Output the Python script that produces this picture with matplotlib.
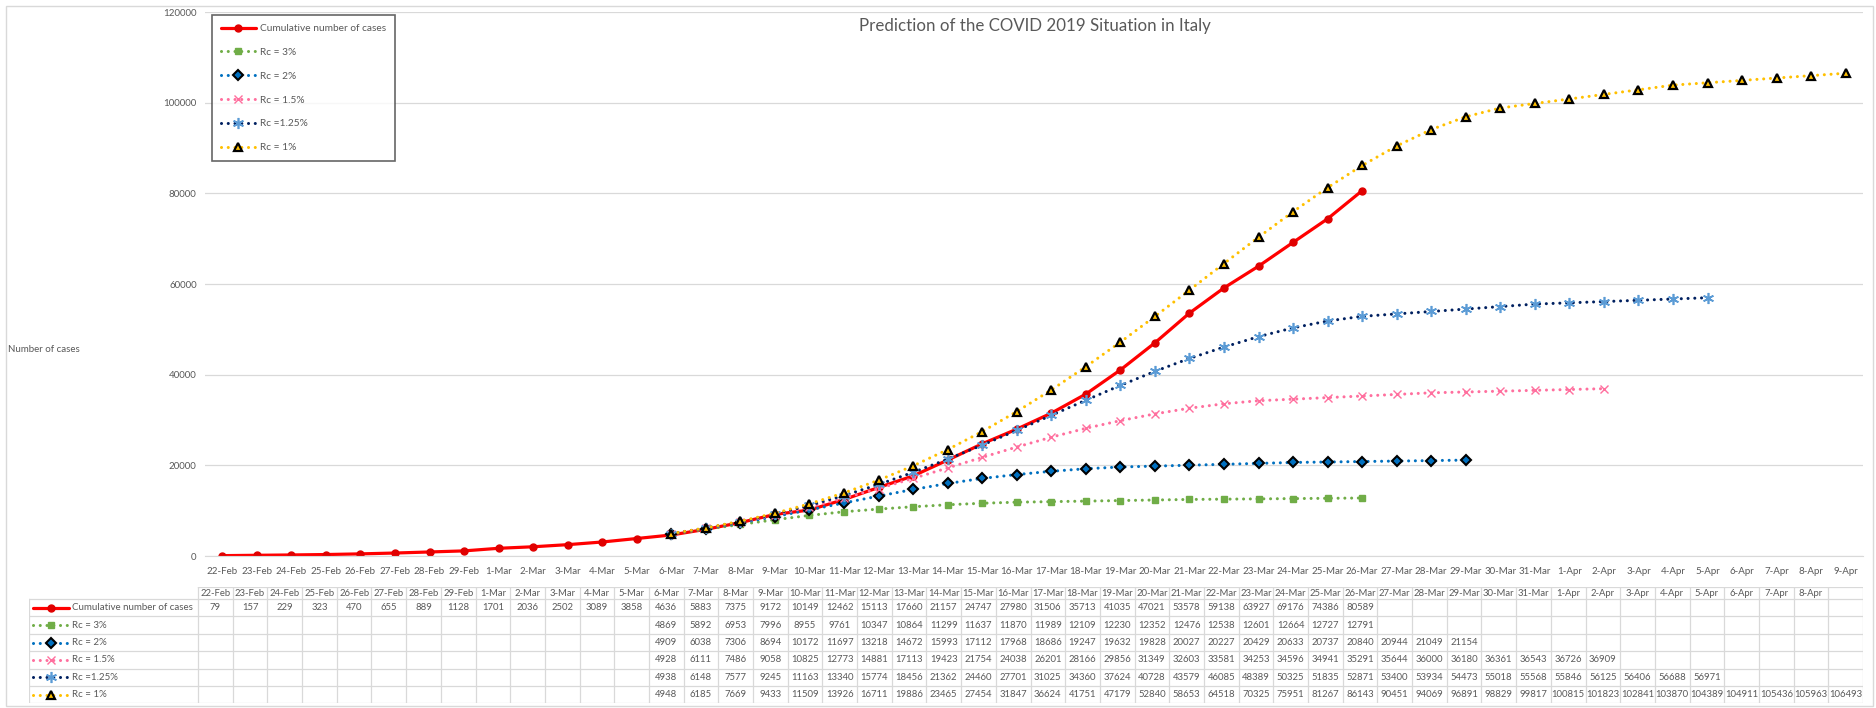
import numpy as np
import matplotlib
matplotlib.use('Agg')
import matplotlib.pyplot as plt
from matplotlib.patches import Rectangle

plt.rcParams['font.family'] = ['Lato', 'DejaVu Sans']

# ---- data ----
dates = (['%d-Feb' % d for d in range(22, 30)] +
         ['%d-Mar' % d for d in range(1, 32)] +
         ['%d-Apr' % d for d in range(1, 10)])
header_labels = dates[:-1] + ['']   # last table header is empty in the original

cumulative = [79, 157, 229, 323, 470, 655, 889, 1128, 1701, 2036, 2502, 3089, 3858,
              4636, 5883, 7375, 9172, 10149, 12462, 15113, 17660, 21157, 24747, 27980,
              31506, 35713, 41035, 47021, 53578, 59138, 63927, 69176, 74386, 80589]
rc3 = [4869, 5892, 6953, 7996, 8955, 9761, 10347, 10864, 11299, 11637, 11870, 11989,
       12109, 12230, 12352, 12476, 12538, 12601, 12664, 12727, 12791]
rc2 = [4909, 6038, 7306, 8694, 10172, 11697, 13218, 14672, 15993, 17112, 17968, 18686,
       19247, 19632, 19828, 20027, 20227, 20429, 20633, 20737, 20840, 20944, 21049, 21154]
rc15 = [4928, 6111, 7486, 9058, 10825, 12773, 14881, 17113, 19423, 21754, 24038, 26201,
        28166, 29856, 31349, 32603, 33581, 34253, 34596, 34941, 35291, 35644, 36000,
        36180, 36361, 36543, 36726, 36909]
rc125 = [4938, 6148, 7577, 9245, 11163, 13340, 15774, 18456, 21362, 24460, 27701, 31025,
         34360, 37624, 40728, 43579, 46085, 48389, 50325, 51835, 52871, 53400, 53934,
         54473, 55018, 55568, 55846, 56125, 56406, 56688, 56971]
rc1 = [4948, 6185, 7669, 9433, 11509, 13926, 16711, 19886, 23465, 27454, 31847, 36624,
       41751, 47179, 52840, 58653, 64518, 70325, 75951, 81267, 86143, 90451, 94069,
       96891, 98829, 99817, 100815, 101823, 102841, 103870, 104389, 104911, 105436,
       105963, 106493]

series_names = ['Cumulative number of cases', 'Rc = 3%', 'Rc = 2%', 'Rc = 1.5%',
                'Rc =1.25%', 'Rc = 1%']
series_values = [cumulative, rc3, rc2, rc15, rc125, rc1]
series_start = ['22-Feb', '6-Mar', '6-Mar', '6-Mar', '6-Mar', '6-Mar']

# ---- styles ----
dot = (0, (0.01, 2.2))
styles = [
    dict(color='#FF0000', lw=2.3, ls='-', marker='o', ms=5, mfc='#E00000', mec='#E00000'),
    dict(color='#70AD47', lw=2.2, ls=dot, marker='s', ms=5, mfc='#70AD47', mec='#70AD47'),
    dict(color='#0070C0', lw=2.2, ls=dot, marker='D', ms=4.8, mfc='#0070C0', mec='black', mew=1.5),
    dict(color='#FF6F9E', lw=2.2, ls=dot, marker='x', ms=6, mfc='#FF6F9E', mec='#FF6F9E', mew=1.0),
    dict(color='#002060', lw=2.2, ls=dot, marker=(6, 2, 0), ms=8, mfc='#5B9BD5', mec='#5B9BD5', mew=1.2),
    dict(color='#FFC000', lw=2.2, ls=dot, marker='^', ms=5.5, mfc='#FFC000', mec='black', mew=1.6),
]

grey = '#595959'
light = '#D9D9D9'
W, H = 1876, 708

fig = plt.figure(figsize=(W / 100, H / 100), dpi=100)
fig.patches.append(Rectangle((6 / W, 2 / H), 1867 / W, 700 / H, transform=fig.transFigure,
                             fill=False, edgecolor=light, lw=1))

# ---- main chart ----
ax = fig.add_axes([205 / W, 1 - 556 / H, (1863 - 205) / W, (556 - 12) / H])
lines = []
for name, vals, start, st in zip(series_names, series_values, series_start, styles):
    x0 = dates.index(start)
    x = np.arange(x0, x0 + len(vals))
    kw = dict(st)
    ln, = ax.plot(x, vals, color=kw.pop('color'), lw=kw.pop('lw'), ls=kw.pop('ls'),
                  dash_capstyle='round', solid_capstyle='round', label=name, **kw)
    lines.append(ln)

ax.set_xlim(-0.5, len(dates) - 0.5)
ax.set_ylim(0, 120000)
ax.set_yticks(np.arange(0, 120001, 20000))
ax.set_xticks(np.arange(len(dates)))
ax.set_xticklabels(dates)
ax.tick_params(axis='x', length=0, pad=8, labelsize=7, labelcolor=grey)
ax.tick_params(axis='y', length=0, pad=6, labelsize=7, labelcolor=grey)
ax.grid(axis='y', color=light, lw=0.9)
ax.set_axisbelow(True)
for s in ['top', 'right', 'left']:
    ax.spines[s].set_visible(False)
ax.spines['bottom'].set_color(light)

fig.text(1035 / W, 1 - 26 / H, 'Prediction of the COVID 2019 Situation in Italy',
         ha='center', va='center', fontsize=12.2, color=grey)
fig.text(8 / W, 1 - 349 / H, 'Number of cases', ha='left', va='center',
         fontsize=7, color=grey)

leg = fig.legend(handles=lines, loc='upper left', bbox_to_anchor=(212 / W, 1 - 15 / H),
                 bbox_transform=fig.transFigure, borderaxespad=0, fancybox=False,
                 fontsize=7.3, handlelength=3.4, labelspacing=1.45, numpoints=1,
                 borderpad=0.9, handletextpad=0.4, labelcolor=grey)
leg.get_frame().set_edgecolor('#404040')
leg.get_frame().set_linewidth(1.2)

# ---- data table ----
col_w = (1863 - 198) / len(dates)
lab_w = (198 - 29) / col_w
hdr_h, row_h = 12, 17.4
tbl_h = hdr_h + row_h * len(series_names)
tax = fig.add_axes([29 / W, 1 - (587 + tbl_h) / H, (1863 - 29) / W, tbl_h / H])
tax.set_xlim(-0.5 - lab_w, len(dates) - 0.5)
tax.set_ylim(tbl_h, 0)
tax.axis('off')
left = -0.5 - lab_w
right = len(dates) - 0.5

tax.plot([-0.5, right], [0, 0], color=light, lw=0.9)
for r in range(len(series_names) + 1):
    y = hdr_h + r * row_h
    tax.plot([left, right], [y, y], color=light, lw=0.9)
for c in range(len(dates) + 1):
    tax.plot([c - 0.5, c - 0.5], [0, tbl_h], color=light, lw=0.9)
tax.plot([left, left], [hdr_h, tbl_h], color=light, lw=0.9)

for c, lab in enumerate(header_labels):
    tax.text(c, hdr_h / 2, lab, ha='center', va='center', fontsize=6.8, color=grey)

key_x0 = left + 4 / col_w
key_x1 = left + 40 / col_w
for r, (name, vals, start, st) in enumerate(zip(series_names, series_values, series_start, styles)):
    yc = hdr_h + (r + 0.5) * row_h
    kw = dict(st)
    tax.plot([key_x0, key_x1], [yc, yc], color=kw.pop('color'), lw=kw.pop('lw'),
             ls=kw.pop('ls'), dash_capstyle='round', solid_capstyle='round', marker='None')
    tax.plot([(key_x0 + key_x1) / 2], [yc], ls='None', **kw)
    tax.text(key_x1 + 3 / col_w, yc, name, ha='left', va='center', fontsize=7, color=grey)
    x0 = dates.index(start)
    for i, v in enumerate(vals):
        tax.text(x0 + i, yc, str(v), ha='center', va='center', fontsize=6.8, color=grey)

fig.savefig('out.png', dpi=100)
